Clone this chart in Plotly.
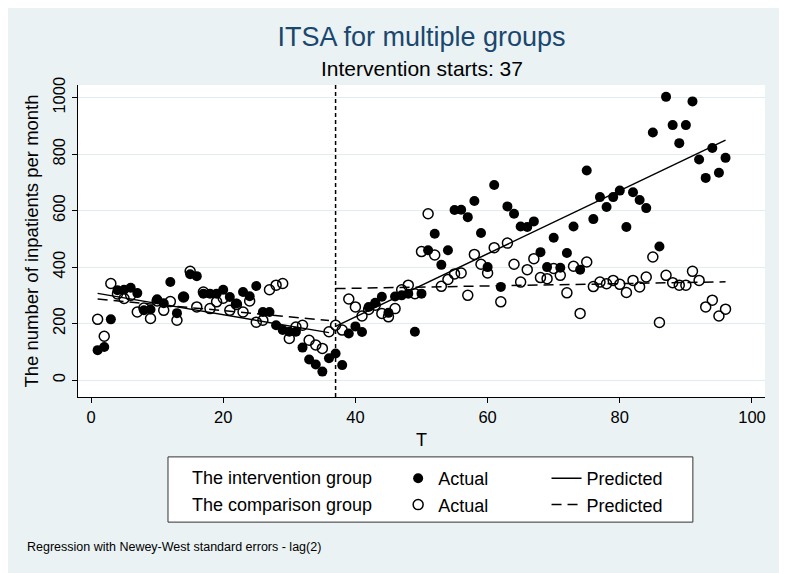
import plotly.graph_objects as go

# --- data ------------------------------------------------------------------
T = list(range(1, 97))
START_T = 37

intervention_actual = [
    106, 117, 215, 318, 320, 327, 308, 247, 250, 286,
    272, 347, 237, 294, 375, 368, 306, 306, 306, 320,
    294, 271, 312, 297, 333, 241, 241, 194, 177, 171,
    171, 115, 73, 55, 30, 77, 94, 53, 165, 190,
    170, 259, 274, 295, 238, 296, 300, 306, 171, 306,
    460, 518, 408, 460, 602, 603, 577, 634, 521, 400,
    691, 330, 615, 589, 544, 542, 562, 453, 400, 504,
    398, 450, 544, 391, 742, 570, 648, 613, 648, 671,
    542, 665, 638, 609, 877, 473, 1003, 903, 839, 903,
    987, 781, 716, 822, 734, 787,
]
comparison_actual = [
    215, 155, 342, 305, 289, 300, 241, 255, 218, 280,
    247, 278, 212, 294, 385, 259, 312, 253, 277, 290,
    247, 268, 241, 280, 205, 212, 320, 336, 342, 147,
    188, 194, 141, 124, 112, 171, 194, 177, 287, 259,
    227, 250, 265, 236, 224, 253, 320, 336, 306, 455,
    589, 443, 332, 356, 376, 379, 300, 445, 410, 379,
    469, 277, 485, 410, 347, 391, 430, 363, 359, 395,
    371, 309, 403, 236, 418, 331, 347, 341, 353, 339,
    310, 353, 330, 365, 436, 204, 371, 345, 336, 336,
    385, 353, 259, 283, 227, 251,
]

# predicted (straight segments, pre / post intervention)
pred_T_pre = [1, 36]
pred_T_post = [37, 96]
pred_int_pre = [307, 168]
pred_int_post = [190, 850]
pred_cmp_pre = [287, 211]
pred_cmp_post = [324, 348]

group_labels = ["The intervention group", "The comparison group"]

BG = "#EAF2F3"
GRID = "#E2ECEF"
TITLE = "#1A476F"
FONT = "Liberation Sans, Arial, sans-serif"

# the page puts the figure 8px in from the top-left corner
W, H = 779, 565

fig = go.Figure()

fig.add_trace(go.Scatter(
    x=T, y=intervention_actual, mode="markers", name="Actual",
    marker=dict(symbol="circle", size=10, color="black"),
    legend="legend",
))
fig.add_trace(go.Scatter(
    x=T, y=comparison_actual, mode="markers", name="Actual",
    marker=dict(symbol="circle-open", size=10, color="black", line=dict(width=1.5)),
    legend="legend",
))
fig.add_trace(go.Scatter(
    x=pred_T_pre + [None] + pred_T_post,
    y=pred_int_pre + [None] + pred_int_post,
    mode="lines", name="Predicted",
    line=dict(color="black", width=1.5),
    legend="legend2",
))
fig.add_trace(go.Scatter(
    x=pred_T_pre + [None] + pred_T_post,
    y=pred_cmp_pre + [None] + pred_cmp_post,
    mode="lines", name="Predicted",
    line=dict(color="black", width=1.5, dash="10px,6px"),
    legend="legend2",
))

fig.add_vline(x=START_T, line=dict(color="black", width=1.5, dash="4px,3px"))

# legend frame + row labels
fig.add_shape(type="rect", xref="paper", yref="paper",
              x0=0.131, x1=0.895, y0=-0.401, y1=-0.192,
              line=dict(color="#333", width=1), fillcolor="white", layer="below")
for i, lab in enumerate(group_labels):
    fig.add_annotation(text=lab, xref="paper", yref="paper",
                       x=0.163, y=-0.260 - i * 0.086, xanchor="left", yanchor="middle",
                       showarrow=False, font=dict(size=18, color="black"))

fig.add_annotation(text=f"Intervention starts: {START_T}", xref="paper", yref="paper",
                   x=0.5, y=1.054, xanchor="center", yanchor="middle",
                   showarrow=False, font=dict(size=21, color="black"))
fig.add_annotation(text="Regression with Newey-West standard errors - lag(2)",
                   xref="paper", yref="paper", x=-0.077, y=-0.481,
                   xanchor="left", yanchor="middle", showarrow=False,
                   font=dict(size=12.5, color="black"))

fig.update_layout(
    width=W, height=H,
    paper_bgcolor=BG, plot_bgcolor="white",
    font=dict(family=FONT, color="black", size=16),
    margin=dict(l=70, r=22, t=77, b=176),
    title=dict(text="ITSA for multiple groups", x=0.5, xref="paper",
               y=1 - 29 / H, yref="container", yanchor="middle", xanchor="center",
               font=dict(size=27, color=TITLE)),
    showlegend=True,
    legend=dict(x=0.466, y=-0.202, xanchor="left", yanchor="top",
                bgcolor="rgba(0,0,0,0)", borderwidth=0, font=dict(size=18)),
    legend2=dict(x=0.682, y=-0.202, xanchor="left", yanchor="top",
                 bgcolor="rgba(0,0,0,0)", borderwidth=0, font=dict(size=18)),
)
fig.update_xaxes(
    range=[-1.97, 101.97], tickvals=[0, 20, 40, 60, 80, 100],
    showgrid=False, zeroline=False, showline=True, linecolor="black", linewidth=1,
    ticks="outside", ticklen=5, tickcolor="black", tickfont=dict(size=16.5),
    title=dict(text="T", font=dict(size=18), standoff=8),
)
fig.update_yaxes(
    range=[-60, 1045], tickvals=[0, 200, 400, 600, 800, 1000], tickangle=-90,
    showgrid=True, gridcolor=GRID, gridwidth=1, zeroline=False,
    showline=True, linecolor="black", linewidth=1,
    ticks="outside", ticklen=5, tickcolor="black", tickfont=dict(size=16.5),
    title=dict(text="The number of inpatients per month", font=dict(size=18.5), standoff=6),
)

fig.write_html("out.html")
